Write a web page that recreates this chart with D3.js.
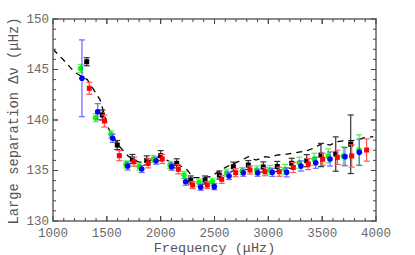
<!DOCTYPE html>
<html>
<head>
<meta charset="utf-8">
<script src="https://cdn.jsdelivr.net/npm/d3@7"></script>
<style>
  body { margin: 0; background: #fff; }
  text { font-family: "Liberation Mono", "DejaVu Sans Mono", monospace; }
</style>
</head>
<body>
<div id="main"></div>
<script>
var width = 415, height = 255;

// [frequency, delta nu, error]
var blackPts = [[1313,145.77,0.4],[1458,140.5,0.5],[1597,137.52,0.45],[1737,136.14,0.45],
  [1870,136.0,0.45],[2000,136.47,0.5],[2149,135.71,0.45],[2279,134.06,0.4],[2412,134.06,0.4],
  [2545,134.55,0.4],[2675,135.38,0.45],[2814,135.54,0.45],[2953,135.35,0.5],[3083,135.4,0.5],
  [3217,135.71,0.5],[3357,135.97,0.6],[3489,136.53,1.15],[3626,136.63,1.7],[3765,137.6,2.9]];
var redPts = [[1337,143.14,0.6],[1477,139.9,0.6],[1616,136.47,0.5],[1752,135.87,0.45],
  [1885,135.71,0.45],[2015,136.14,0.45],[2164,135.12,0.45],[2297,133.56,0.35],[2433,133.56,0.35],
  [2567,134.13,0.4],[2697,134.78,0.4],[2830,135.05,0.4],[2969,134.88,0.4],[3102,134.88,0.45],
  [3232,135.3,0.5],[3371,135.64,0.55],[3505,136.11,0.6],[3641,136.3,0.7],[3774,136.44,1.1],[3913,137.03,1.1]];
var greenPts = [[1257,145.1,0.4],[1396,140.23,0.4],[1539,138.58,0.35],[1678,135.6,0.35],
  [1802,135.38,0.35],[1932,136.14,0.35],[2087,135.54,0.35],[2217,134.55,0.35],[2356,133.8,0.35],
  [2480,133.89,0.35],[2613,134.78,0.35],[2758,134.95,0.35],[2892,135.05,0.4],[3015,135.05,0.45],
  [3155,135.1,0.5],[3288,135.77,0.55],[3427,136.11,0.6],[3557,136.44,0.7],[3697,136.44,0.9],[3842,137.03,1.5]];
var bluePts = [[1269,144.13,3.8],[1415,140.82,0.8],[1554,138.19,0.4],[1694,135.45,0.4],
  [1824,135.15,0.35],[1957,135.97,0.35],[2102,135.38,0.35],[2232,133.89,0.35],[2372,133.34,0.3],
  [2498,133.4,0.3],[2635,134.46,0.35],[2768,134.78,0.35],[2901,134.78,0.35],[3037,134.82,0.4],
  [3170,134.82,0.45],[3303,135.45,0.5],[3440,135.77,0.55],[3573,136.14,0.7],[3712,136.37,0.9],[3845,136.8,1.3]];

// model curve (dashed)
var modelPts = [[1000,147.0],[1096,145.96],[1204,144.7],[1319,144.0],[1437,142.0],[1514,139.2],
  [1600,137.6],[1700,136.4],[1800,135.8],[1900,136.0],[1990,136.4],[2080,135.9],[2195,135.4],
  [2247,135.05],[2303,134.3],[2396,134.3],[2474,134.4],[2535,134.9],[2644,135.54],[2721,135.87],
  [2814,136.37],[2885,136.04],[2969,136.37],[3020,136.3],[3077,136.53],[3155,136.6],[3217,136.7],
  [3270,136.8],[3347,136.93],[3418,137.2],[3501,137.69],[3573,137.52],[3635,137.85],[3712,137.95],
  [3789,137.95],[3898,138.25],[3975,138.35]];

var xTicks = [1000,1500,2000,2500,3000,3500,4000];
var yTicks = [130,135,140,145,150];

var L = 53, R = 376, T = 19, B = 221;

var svg = d3.select("#main").append("svg")
  .attr("width", width).attr("height", height);

var x = d3.scaleLinear().domain([1000,4000]).range([L,R]);
var y = d3.scaleLinear().domain([130,150]).range([B,T]);

svg.append("clipPath").attr("id","plotclip")
  .append("rect").attr("x",L).attr("y",T).attr("width",R-L).attr("height",B-T);

var plot = svg.append("g").attr("clip-path","url(#plotclip)");

// dashed model line
plot.append("path")
  .datum(modelPts)
  .attr("fill","none")
  .attr("stroke","#000")
  .attr("stroke-width",1.3)
  .attr("stroke-dasharray","6,5")
  .attr("d", d3.line().x(function(d){return x(d[0]);}).y(function(d){return y(d[1]);}));

function drawSeries(data, col, barCol, shape){
  var g = plot.append("g");
  var e = g.selectAll(".err").data(data).enter().append("g");
  e.append("line")
    .attr("x1",function(d){return x(d[0]);}).attr("x2",function(d){return x(d[0]);})
    .attr("y1",function(d){return y(d[1]-d[2]);}).attr("y2",function(d){return y(d[1]+d[2]);})
    .attr("stroke",barCol).attr("stroke-width",1.2);
  [1,-1].forEach(function(s){
    e.append("line")
      .attr("x1",function(d){return x(d[0])-3;}).attr("x2",function(d){return x(d[0])+3;})
      .attr("y1",function(d){return y(d[1]+s*d[2]);}).attr("y2",function(d){return y(d[1]+s*d[2]);})
      .attr("stroke",barCol).attr("stroke-width",1.2);
  });
  if(shape=="square"){
    g.selectAll(".m").data(data).enter().append("rect")
      .attr("x",function(d){return x(d[0])-2.5;}).attr("y",function(d){return y(d[1])-2.5;})
      .attr("width",5).attr("height",5).attr("fill",col);
  } else {
    g.selectAll(".m").data(data).enter().append("circle")
      .attr("cx",function(d){return x(d[0]);}).attr("cy",function(d){return y(d[1]);})
      .attr("r",2.8).attr("fill",col);
  }
}

drawSeries(greenPts, "#00ff00", "#55ee55", "circle");
drawSeries(bluePts, "#0000ff", "#6666ff", "circle");
drawSeries(blackPts, "#000", "#333", "square");
drawSeries(redPts, "#ff0000", "#ff5555", "square");

// frame
svg.append("rect").attr("x",L).attr("y",T).attr("width",R-L).attr("height",B-T)
  .attr("fill","none").attr("stroke","#8a8a8a").attr("stroke-width",2);

// inward ticks on all four sides
var xMinor = d3.range(1100,4000,100);
var yMinor = d3.range(131,150,1);
var tk = svg.append("g").attr("stroke","#444").attr("stroke-width",1);
xMinor.concat(xTicks).forEach(function(v){
  var len = xTicks.indexOf(v)>=0 ? 5 : 3;
  tk.append("line").attr("x1",x(v)).attr("x2",x(v)).attr("y1",B).attr("y2",B-len);
  tk.append("line").attr("x1",x(v)).attr("x2",x(v)).attr("y1",T).attr("y2",T+len);
});
yMinor.concat(yTicks).forEach(function(v){
  var len = yTicks.indexOf(v)>=0 ? 5 : 3;
  tk.append("line").attr("x1",L).attr("x2",L+len).attr("y1",y(v)).attr("y2",y(v));
  tk.append("line").attr("x1",R).attr("x2",R-len).attr("y1",y(v)).attr("y2",y(v));
});

// tick labels
svg.selectAll(".xl").data(xTicks).enter().append("text")
  .attr("x",function(d){return x(d);}).attr("y",B+16)
  .attr("text-anchor","middle").attr("font-size",12.5).attr("fill","#6a6a6a")
  .text(function(d){return d;});
svg.selectAll(".yl").data(yTicks).enter().append("text")
  .attr("x",L-4).attr("y",function(d){return y(d)+3.5;})
  .attr("text-anchor","end").attr("font-size",12.5).attr("fill","#6a6a6a")
  .text(function(d){return d;});

// axis titles
svg.append("text").attr("x",(L+R)/2).attr("y",251.5)
  .attr("text-anchor","middle").attr("font-size",13.5).attr("fill","#555")
  .text("Frequency (\u03bcHz)");
svg.append("text")
  .attr("transform","translate(17.5,"+((T+B)/2+1)+") rotate(-90)")
  .attr("text-anchor","middle").attr("font-size",13.8).attr("fill","#555")
  .text("Large separation \u0394\u03bd (\u03bcHz)");
</script>
</body>
</html>
